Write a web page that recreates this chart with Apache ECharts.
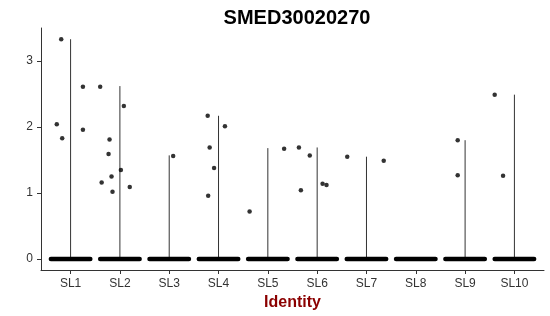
<!DOCTYPE html>
<html>
<head>
<meta charset="utf-8">
<script src="https://cdn.jsdelivr.net/npm/echarts@6/dist/echarts.min.js"></script>
<style>
html,body{margin:0;padding:0;background:#fff;}
#chart{width:550px;height:316px;}
</style>
</head>
<body>
<div id="chart"></div>
<script>
// ---- data ----
const titleText = 'SMED30020270';
const xAxisTitle = 'Identity';
const categories = ['SL1','SL2','SL3','SL4','SL5','SL6','SL7','SL8','SL9','SL10'];
const yTicks = [0, 1, 2, 3];
// maximum expression per identity (top of the degenerate violin)
const violinMax = [3.33, 2.62, 1.57, 2.17, 1.68, 1.69, 1.55, 0, 1.80, 2.49];
// jitter half-width of the points at zero
const zeroJitter = 0.4;
// non-zero cells: group index (1-based), horizontal jitter, value
const pointGroup  = [1,1,1,1,1, 2,2,2,2,2,2,2,2,2, 3, 4,4,4,4,4, 5,5, 6,6,6,6,6, 7,7, 9,9, 10,10];
const pointOffset = [-0.19,-0.28,-0.17,0.25,0.25, -0.40,0.08,-0.21,-0.23,-0.17,-0.37,-0.15,0.02,0.20, 0.08, -0.22,0.13,-0.18,-0.09,-0.21, -0.37,0.33, -0.37,-0.15,-0.33,0.11,0.19, -0.39,0.35, -0.15,-0.15, -0.40,-0.23];
const pointValue  = [3.33,2.04,1.83,2.61,1.96, 2.61,2.32,1.81,1.59,1.25,1.16,1.02,1.35,1.09, 1.56, 2.17,2.01,1.69,1.38,0.96, 0.72,1.67, 1.69,1.57,1.04,1.14,1.12, 1.55,1.49, 1.80,1.27, 2.49,1.26];

// ---- build ----
const xPositions = categories.map((c, i) => i + 1);
const violinData = categories.map((c, i) => [i + 1, violinMax[i]]);
const bandData = categories.map((c, i) => [i + 1 - zeroJitter, i + 1 + zeroJitter, 0]);
const scatterData = pointValue.map((v, i) => [pointGroup[i] + pointOffset[i], v]);

const chart = echarts.init(document.getElementById('chart'), null, {renderer: 'canvas'});
const font = 'Liberation Sans, Arial, sans-serif';
chart.setOption({
  animation: false,
  backgroundColor: '#ffffff',
  title: {
    text: titleText,
    left: 292, top: 3, textAlign: 'center',
    textStyle: {fontFamily: font, fontWeight: 'bold', fontSize: 20, color: '#000'}
  },
  grid: {left: 41, right: 6, top: 28, bottom: 46, containLabel: false},
  xAxis: {
    type: 'value', min: 0.4, max: 10.6,
    name: xAxisTitle, nameLocation: 'middle', nameGap: 22,
    nameTextStyle: {fontFamily: font, fontWeight: 'bold', fontSize: 16, color: '#8B0000'},
    splitLine: {show: false},
    axisLine: {show: true, onZero: false, lineStyle: {color: '#333', width: 1}},
    axisTick: {show: true, customValues: xPositions, length: 4, lineStyle: {color: '#333'}},
    axisLabel: {
      customValues: xPositions, margin: 8,
      fontFamily: font, fontSize: 12, color: '#333',
      formatter: v => categories[Math.round(v) - 1] || ''
    }
  },
  yAxis: {
    type: 'value', min: -0.1667, max: 3.5,
    splitLine: {show: false},
    axisLine: {show: true, onZero: false, lineStyle: {color: '#333', width: 1}},
    axisTick: {show: true, customValues: yTicks, length: 4, lineStyle: {color: '#333'}},
    axisLabel: {customValues: yTicks, margin: 8, fontFamily: font, fontSize: 12, color: '#333'}
  },
  series: [
    {
      type: 'custom',
      data: violinData,
      encode: {x: 0, y: 1},
      renderItem: (params, api) => {
        const x = api.value(0), m = api.value(1);
        if (!(m > 0)) return null;
        const p0 = api.coord([x, 0]);
        const p1 = api.coord([x, m]);
        return {type: 'line', shape: {x1: p0[0], y1: p0[1], x2: p1[0], y2: p1[1]},
          style: {stroke: '#333', lineWidth: 1}};
      },
      z: 1
    },
    {
      type: 'custom',
      data: bandData,
      encode: {x: [0, 1], y: 2},
      renderItem: (params, api) => {
        const p0 = api.coord([api.value(0), api.value(2)]);
        const p1 = api.coord([api.value(1), api.value(2)]);
        return {type: 'line', shape: {x1: p0[0], y1: p0[1], x2: p1[0], y2: p1[1]},
          style: {stroke: '#000', lineWidth: 4.5, lineCap: 'round'}};
      },
      z: 2
    },
    {
      type: 'scatter',
      data: scatterData,
      symbol: 'circle',
      symbolSize: 4.5,
      itemStyle: {color: '#000'},
      z: 3
    }
  ]
});
</script>
</body>
</html>
